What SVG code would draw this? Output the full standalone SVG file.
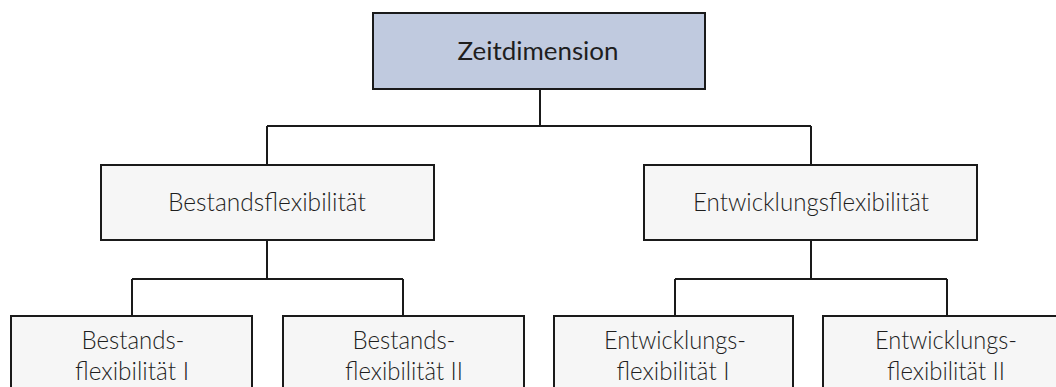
<svg xmlns="http://www.w3.org/2000/svg" width="1056" height="387" viewBox="0 0 1056 387">
<style>
.box{fill:#f6f6f6;stroke:#1a1a1a;stroke-width:2}
.root{fill:#c0cadf;stroke:#1a1a1a;stroke-width:2}
.t{font-family:Lato,"Liberation Sans",sans-serif;font-weight:300;font-size:25px;fill:#1e1e1e;text-anchor:middle}
.tr{font-family:Lato,"Liberation Sans",sans-serif;font-weight:400;font-size:25px;fill:#1e1e1e;text-anchor:middle}
.c{fill:none;stroke:#1a1a1a;stroke-width:2}
</style>
<rect width="1056" height="387" fill="#ffffff"/>
<g id="connectors">
<path class="c" d="M540 89V126M267 126H811M267 126V165M811 126V165"/>
<path class="c" d="M267 240V279M132 279H403M132 279V316M403 279V316"/>
<path class="c" d="M811 240V279M675 279H947M675 279V316M947 279V316"/>
</g>
<g id="zeitdimension">
<rect class="root" x="373" y="13" width="332" height="76"/>
<text class="tr" x="538" y="60" textLength="161" lengthAdjust="spacingAndGlyphs">Zeitdimension</text>
</g>
<g id="bestandsflexibilitaet">
<rect class="box" x="101" y="165" width="333" height="75"/>
<text class="t" x="267" y="211" textLength="198" lengthAdjust="spacingAndGlyphs">Bestandsflexibilität</text>
</g>
<g id="entwicklungsflexibilitaet">
<rect class="box" x="644" y="165" width="333" height="75"/>
<text class="t" x="811" y="211" textLength="236" lengthAdjust="spacingAndGlyphs">Entwicklungsflexibilität</text>
</g>
<g id="bestandsflexibilitaet-1">
<rect class="box" x="11" y="316" width="241" height="82"/>
<text class="t" x="133" y="349" textLength="103" lengthAdjust="spacingAndGlyphs">Bestands-</text>
<text class="t" x="132" y="380" textLength="114" lengthAdjust="spacingAndGlyphs">flexibilität I</text>
</g>
<g id="bestandsflexibilitaet-2">
<rect class="box" x="283" y="316" width="241" height="82"/>
<text class="t" x="404" y="349" textLength="103" lengthAdjust="spacingAndGlyphs">Bestands-</text>
<text class="t" x="404" y="380" textLength="118" lengthAdjust="spacingAndGlyphs">flexibilität II</text>
</g>
<g id="entwicklungsflexibilitaet-1">
<rect class="box" x="554" y="316" width="239" height="82"/>
<text class="t" x="675" y="349" textLength="142" lengthAdjust="spacingAndGlyphs">Entwicklungs-</text>
<text class="t" x="673" y="380" textLength="113" lengthAdjust="spacingAndGlyphs">flexibilität I</text>
</g>
<g id="entwicklungsflexibilitaet-2">
<rect class="box" x="823" y="316" width="241" height="82"/>
<text class="t" x="946" y="349" textLength="142" lengthAdjust="spacingAndGlyphs">Entwicklungs-</text>
<text class="t" x="946" y="380" textLength="118" lengthAdjust="spacingAndGlyphs">flexibilität II</text>
</g>
</svg>
